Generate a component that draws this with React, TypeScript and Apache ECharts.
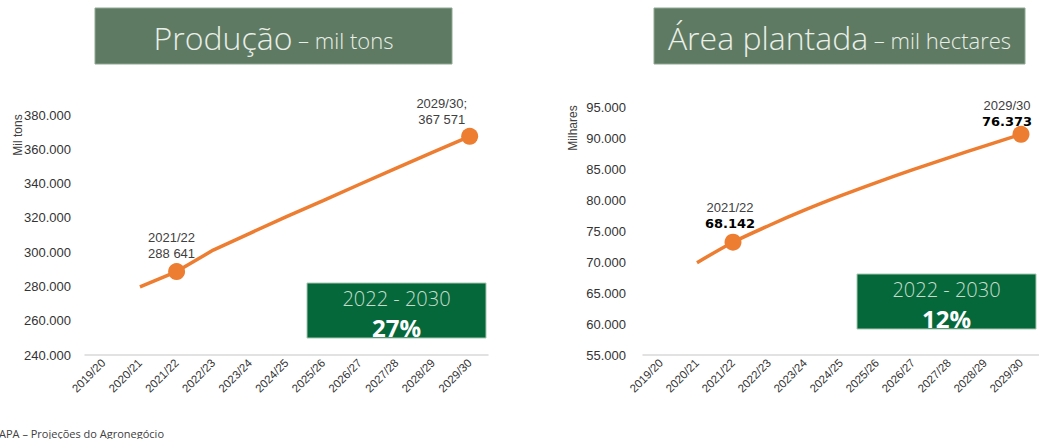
import React, { useEffect, useRef } from "react";
import * as echarts from "echarts";

const categories = ["2019/20", "2020/21", "2021/22", "2022/23", "2023/24", "2024/25", "2025/26", "2026/27", "2027/28", "2028/29", "2029/30"];
const producao: (number | null)[] = [null, 279800, 288641, 301200, 311000, 320700, 330100, 339600, 349000, 358400, 367571];
const area: (number | null)[] = [null, 69890, 73190, 75890, 78390, 80690, 82840, 84890, 86840, 88740, 90600];
const producaoLabels: Record<number, string> = { 2: "{a|2021/22}\n{a|288 641}", 10: "{a|2029/30;}\n{a|367 571}" };
const areaLabels: Record<number, string> = { 2: "{a|2021/22}\n{b|68.142}", 10: "{a|2029/30}\n{b|76.373}" };
const titles = [["Produção", " – mil tons"], ["Área plantada", " – mil hectares"]];
const growth = ["27%", "12%"];
const period = "2022 - 2030";
const yNames = ["Mil tons", "Milhares"];
const footer = "APA – Projeções do Agronegócio";

const ORANGE = "#ED7D31";

function fmt(v: number) {
  return v.toLocaleString("de-DE");
}

function buildData(values: (number | null)[], labels: Record<number, string>, offsets: Record<number, number[]>) {
  return values.map((v, i) => {
    if (v === null) return "-";
    if (labels[i]) {
      return {
        value: v,
        symbol: "circle",
        symbolSize: 17,
        label: {
          show: true,
          position: "top",
          distance: 8,
          offset: offsets[i],
          formatter: labels[i],
          align: "center",
          lineHeight: 16,
          rich: {
            a: { fontSize: 13, color: "#404040", fontFamily: "Liberation Sans, Arial", lineHeight: 16 },
            b: { fontSize: 13, color: "#000", fontWeight: "bold", fontFamily: "DejaVu Sans, Verdana", lineHeight: 16 },
          },
        },
      };
    }
    return v;
  });
}

export default function App() {
  const ref = useRef<HTMLDivElement>(null);
  useEffect(() => {
    if (!ref.current) return;
    const chart = echarts.init(ref.current, null, { renderer: "svg" });
    const xAxisBase = {
      type: "category",
      data: categories,
      boundaryGap: true,
      axisTick: { show: false },
      axisLine: { lineStyle: { color: "#d9d9d9", width: 1.5 } },
      axisLabel: { interval: 0, rotate: 45, fontSize: 11.5, color: "#333", fontFamily: "Liberation Sans, Arial", margin: 6 },
    };
    const yAxisBase = {
      type: "value",
      splitLine: { show: false },
      axisLine: { show: false },
      axisTick: { show: false },
    };
    const titleBox = (x: number, w: number, t: string[]) => ({
      type: "group",
      children: [
        { type: "rect", shape: { x, y: 8, width: w, height: 56 }, style: { fill: "#5F7A62", stroke: "#8fa892", lineWidth: 1 } },
        {
          type: "text",
          x: x + w / 2,
          y: 37,
          style: {
            text: `{a|${t[0]}}{b|${t[1]}}`,
            align: "center",
            verticalAlign: "middle",
            rich: {
              a: { fontSize: 32, fontFamily: "Open Sans", fontWeight: 300, fill: "#e9efe9" },
              b: { fontSize: 22, fontFamily: "Open Sans", fontWeight: 300, fill: "#e9efe9", padding: [6, 0, 0, 0] },
            },
          },
        },
      ],
    });
    const greenBox = (x: number, y: number, g: string) => ({
      type: "group",
      children: [
        { type: "rect", shape: { x, y, width: 179, height: 55 }, style: { fill: "#05683B", stroke: "#a8c8b0", lineWidth: 1 } },
        { type: "text", x: x + 89.5, y: y + 15, style: { text: period, align: "center", verticalAlign: "middle", fontSize: 20, fontFamily: "Open Sans", fontWeight: 300, fill: "#c8dccc" } },
        { type: "text", x: x + 89.5, y: y + 44, style: { text: g, align: "center", verticalAlign: "middle", fontSize: 24, fontFamily: "Open Sans", fontWeight: 700, fill: "#ffffff" } },
      ],
    });
    chart.setOption({
      animation: false,
      grid: [
        { left: 85, right: 551, top: 115, bottom: 84 },
        { left: 643, right: -5, top: 107, bottom: 84 },
      ],
      xAxis: [
        { ...xAxisBase, gridIndex: 0 },
        { ...xAxisBase, gridIndex: 1 },
      ],
      yAxis: [
        {
          ...yAxisBase,
          gridIndex: 0,
          min: 240000,
          max: 380000,
          interval: 20000,
          axisLabel: { formatter: (v: number) => fmt(v), fontSize: 13, color: "#333", fontFamily: "Liberation Sans, Arial", margin: 14 },
        },
        {
          ...yAxisBase,
          gridIndex: 1,
          min: 55000,
          max: 95000,
          interval: 5000,
          axisLabel: { formatter: (v: number) => fmt(v), fontSize: 13, color: "#333", fontFamily: "Liberation Sans, Arial", margin: 17 },
        },
      ],
      series: [
        {
          type: "line",
          xAxisIndex: 0,
          yAxisIndex: 0,
          symbol: "none",
          lineStyle: { color: ORANGE, width: 3.5 },
          itemStyle: { color: ORANGE },
          data: buildData(producao, producaoLabels, { 2: [-5, 6], 10: [-28, 8] }),
        },
        {
          type: "line",
          xAxisIndex: 1,
          yAxisIndex: 1,
          symbol: "none",
          smooth: 0.3,
          lineStyle: { color: ORANGE, width: 3.5 },
          itemStyle: { color: ORANGE },
          data: buildData(area, areaLabels, { 2: [-3, 6], 10: [-14, 12] }),
        },
      ],
      graphic: [
        titleBox(95, 357, titles[0]),
        titleBox(654, 371, titles[1]),
        greenBox(307, 283, growth[0]),
        greenBox(857, 274, growth[1]),
        { type: "text", x: 18, y: 135, rotation: Math.PI / 2, style: { text: yNames[0], align: "center", verticalAlign: "middle", fontSize: 12, fontFamily: "Liberation Sans, Arial", fill: "#404040" } },
        { type: "text", x: 573, y: 128, rotation: Math.PI / 2, style: { text: yNames[1], align: "center", verticalAlign: "middle", fontSize: 12, fontFamily: "Liberation Sans, Arial", fill: "#404040" } },
        { type: "text", x: -1, y: 433, style: { text: footer, align: "left", verticalAlign: "middle", fontSize: 11, fontFamily: "Open Sans", fill: "#404040" } },
      ],
    });
    return () => chart.dispose();
  }, []);
  return <div ref={ref} style={{ position: "absolute", left: 0, top: 0, width: 1039, height: 439, background: "#fff" }} />;
}
